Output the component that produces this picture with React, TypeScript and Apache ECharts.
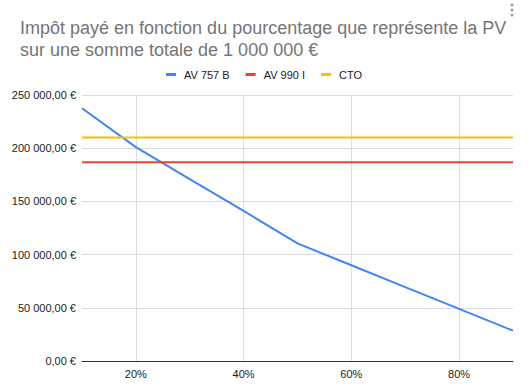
import React, { useEffect, useRef } from "react";
import * as echarts from "echarts";

const titleLines = [
  "Impôt payé en fonction du pourcentage que représente la PV",
  "sur une somme totale de 1 000 000 €",
];
const categories = ["10%", "20%", "30%", "40%", "50%", "60%", "70%", "80%", "90%"];
const av757b = [237500, 201000, 171000, 141000, 110500, 90000, 69500, 49000, 28500];
const av990i = [186750, 186750, 186750, 186750, 186750, 186750, 186750, 186750, 186750];
const cto = [210000, 210000, 210000, 210000, 210000, 210000, 210000, 210000, 210000];
const seriesNames = ["AV 757 B", "AV 990 I", "CTO"];
const colors = ["#4285F4", "#EA4335", "#FBBC04"];

function formatEuro(v: number): string {
  const s = String(Math.round(v)).replace(/\B(?=(\d{3})+(?!\d))/g, " ");
  return s + ",00 €";
}

export default function App() {
  const ref = useRef<HTMLDivElement>(null);
  useEffect(() => {
    if (!ref.current) return;
    const chart = echarts.init(ref.current, undefined, { renderer: "svg" });
    const font = "Arial, 'Liberation Sans', sans-serif";
    const everyOther = (i: number) => i % 2 === 1;
    chart.setOption({
      animation: false,
      backgroundColor: "#ffffff",
      title: {
        text: titleLines.join("\n"),
        left: 15,
        top: 12,
        textStyle: {
          fontFamily: font,
          fontSize: 18,
          lineHeight: 22,
          fontWeight: "normal",
          color: "#757575",
        },
      },
      legend: {
        top: 64,
        left: "center",
        icon: "rect",
        itemWidth: 10,
        itemHeight: 3,
        itemGap: 16,
        textStyle: { fontFamily: font, fontSize: 11, color: "#222222", padding: [0, 0, 0, 3] },
        data: seriesNames,
      },
      graphic: [
        { type: "circle", shape: { cx: 512, cy: 5, r: 1.5 }, style: { fill: "#9e9e9e" } },
        { type: "circle", shape: { cx: 512, cy: 10, r: 1.5 }, style: { fill: "#9e9e9e" } },
        { type: "circle", shape: { cx: 512, cy: 15, r: 1.5 }, style: { fill: "#9e9e9e" } },
      ],
      grid: { left: 82, right: 15, top: 95, bottom: 29, containLabel: false },
      xAxis: {
        type: "category",
        boundaryGap: false,
        data: categories,
        axisLine: { show: true, lineStyle: { color: "#333333", width: 1 } },
        axisTick: { show: false },
        axisLabel: {
          interval: everyOther,
          fontFamily: font,
          fontSize: 11,
          color: "#222222",
          margin: 7,
        },
        splitLine: {
          show: true,
          interval: everyOther,
          lineStyle: { color: "#dddddd", width: 1 },
        },
      },
      yAxis: {
        type: "value",
        min: 0,
        max: 250000,
        interval: 50000,
        axisLine: { show: false },
        axisTick: { show: false },
        axisLabel: {
          fontFamily: font,
          fontSize: 11,
          color: "#222222",
          margin: 6,
          formatter: (v: number) => formatEuro(v),
        },
        splitLine: { show: true, lineStyle: { color: "#dddddd", width: 1 } },
      },
      series: [
        { name: seriesNames[0], type: "line", data: av757b, showSymbol: false, symbol: "none", lineStyle: { width: 2, color: colors[0] }, itemStyle: { color: colors[0] } },
        { name: seriesNames[1], type: "line", data: av990i, showSymbol: false, symbol: "none", lineStyle: { width: 2, color: colors[1] }, itemStyle: { color: colors[1] } },
        { name: seriesNames[2], type: "line", data: cto, showSymbol: false, symbol: "none", lineStyle: { width: 2, color: colors[2] }, itemStyle: { color: colors[2] } },
      ],
    });
    return () => chart.dispose();
  }, []);
  return (
    <div
      ref={ref}
      style={{ position: "fixed", left: 0, top: 0, width: 528, height: 390, background: "#fff" }}
    />
  );
}
